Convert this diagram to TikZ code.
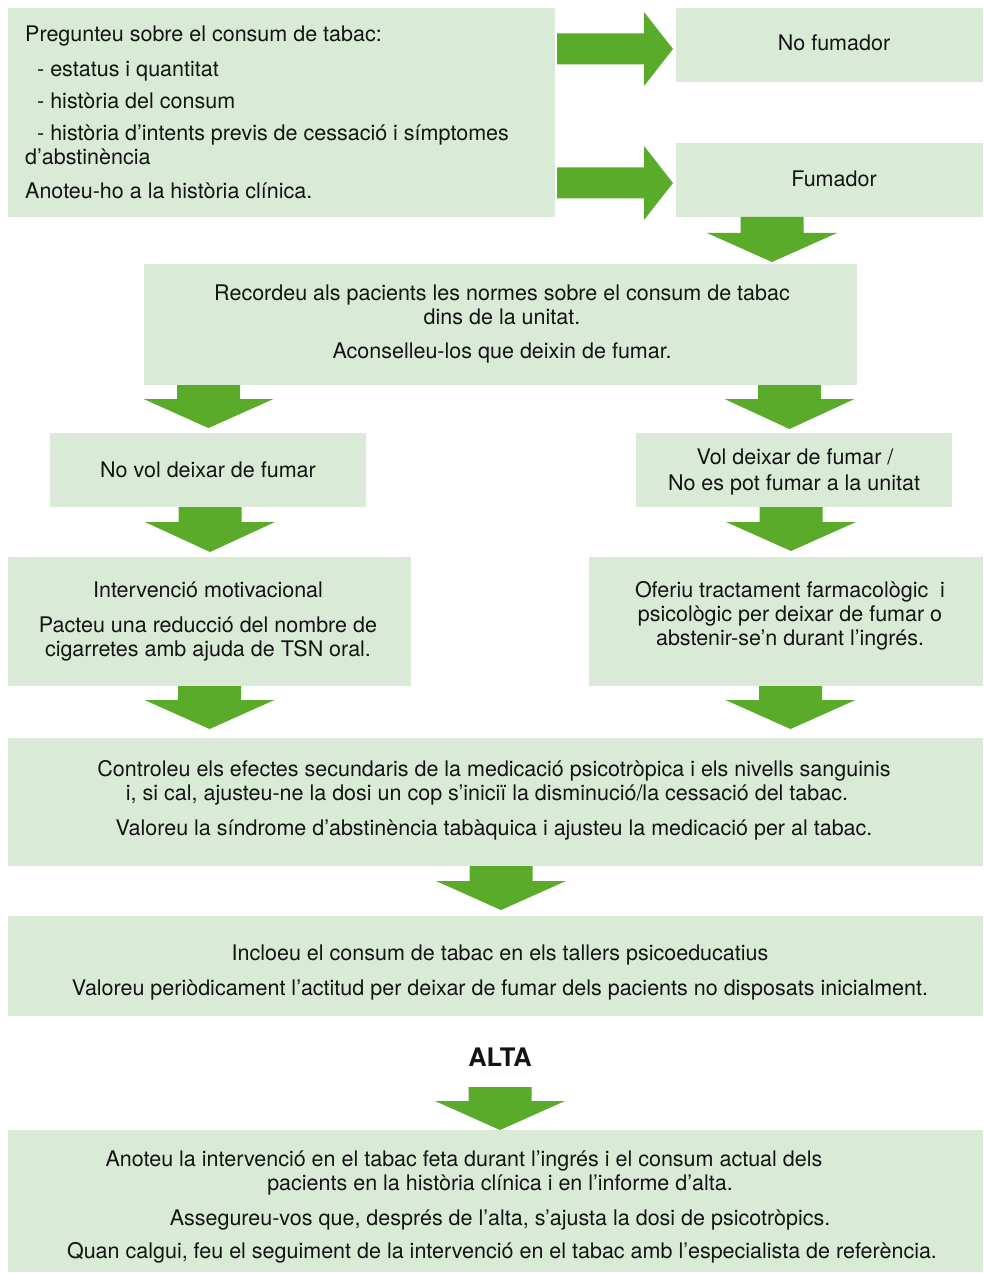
\documentclass[tikz,border=0pt]{standalone}
\usepackage{fontspec}
\setmainfont{TeX Gyre Heros}
\definecolor{boxgreen}{RGB}{217,234,215}
\definecolor{arrowgreen}{RGB}{90,171,42}
\definecolor{txt}{RGB}{20,20,20}
\newcommand\dnarrow[4]{\fill[arrowgreen] (#1-31.5,#2) -- (#1+31.5,#2) -- (#1+31.5,#3) -- (#1+65,#3) -- (#1,#4) -- (#1-65,#3) -- (#1-31.5,#3) -- cycle;}
\newcommand\rtarrow[1]{\fill[arrowgreen] (557,#1-15.5) -- (644,#1-15.5) -- (644,#1-37) -- (673,#1) -- (644,#1+37) -- (644,#1+15.5) -- (557,#1+15.5) -- cycle;}
\begin{document}
\begin{tikzpicture}[x=1pt,y=-1pt,
  box/.style={fill=boxgreen,draw=none,inner sep=0pt,anchor=north west},
  tl/.style={anchor=base,inner sep=0pt,text=txt,font=\fontsize{21.5}{24}\selectfont},
  tw/.style={anchor=base west,inner sep=0pt,text=txt,font=\fontsize{21.5}{24}\selectfont}]
\useasboundingbox (0,0) rectangle (983,1273);
% boxes
\node[box,minimum width=547pt,minimum height=209pt] (b1) at (8,8) {};
\node[box,minimum width=307pt,minimum height=74pt] (nf) at (676,8) {};
\node[box,minimum width=307pt,minimum height=74pt] (fu) at (676,143) {};
\node[box,minimum width=713pt,minimum height=121pt] (rec) at (144,264) {};
\node[box,minimum width=316pt,minimum height=74pt] (nv) at (50,433) {};
\node[box,minimum width=316pt,minimum height=74pt] (vd) at (636,433) {};
\node[box,minimum width=403pt,minimum height=129pt] (im) at (8,557) {};
\node[box,minimum width=394pt,minimum height=129pt] (of) at (589,557) {};
\node[box,minimum width=975pt,minimum height=128pt] (co) at (8,738) {};
\node[box,minimum width=975pt,minimum height=100pt] (in) at (8,916) {};
\node[box,minimum width=975pt,minimum height=142pt] (an) at (8,1130) {};
% arrows
\rtarrow{49}
\rtarrow{183}
\dnarrow{772}{217}{233}{262}
\dnarrow{208.5}{385}{399}{428}
\dnarrow{789.5}{385}{399}{429}
\dnarrow{210}{507}{522}{552}
\dnarrow{791}{507}{522}{551}
\dnarrow{209.5}{686}{700}{729}
\dnarrow{790.5}{686}{700}{729}
\dnarrow{501}{866}{881}{910}
\dnarrow{500}{1087}{1101}{1130}
% texts box 1
\node[tw] (t1) at (25,42) {Pregunteu sobre el consum de tabac:};
\node[tw] (t2) at (25,77) {\ \ - estatus i quantitat};
\node[tw] (t3) at (25,109) {\ \ - història del consum};
\node[tw] (t4) at (25,141) {\ \ - història d’intents previs de cessació i símptomes};
\node[tw] (t5) at (25,165) {d’abstinència};
\node[tw] (t6) at (25,199) {Anoteu-ho a la història clínica.};
\node[tl] (tnf) at (834,51) {No fumador};
\node[tl] (tfu) at (834,187) {Fumador};
\node[tl] (r1) at (502,300) {Recordeu als pacients les normes sobre el consum de tabac};
\node[tl] (r2) at (502,324) {dins de la unitat.};
\node[tl] (r3) at (502,358) {Aconselleu-los que deixin de fumar.};
\node[tl] (tnv) at (208,477) {No vol deixar de fumar};
\node[tl] (v1) at (795,464) {Vol deixar de fumar /};
\node[tl] (v2) at (794,490) {No es pot fumar a la unitat};
\node[tl] (i1) at (208,597) {Intervenció motivacional};
\node[tl] (i2) at (208,632) {Pacteu una reducció del nombre de};
\node[tl] (i3) at (208,656) {cigarretes amb ajuda de TSN oral.};
\node[tl] (o1) at (790,597) {Oferiu tractament farmacològic\ \ i};
\node[tl] (o2) at (790,621) {psicològic per deixar de fumar o};
\node[tl] (o3) at (790,645) {abstenir-se’n durant l’ingrés.};
\node[tl] (c1) at (494,776) {Controleu els efectes secundaris de la medicació psicotròpica i els nivells sanguinis};
\node[tl] (c2) at (487,800) {i, si cal, ajusteu-ne la dosi un cop s’iniciï la disminució/la cessació del tabac.};
\node[tl] (c3) at (494,835) {Valoreu la síndrome d’abstinència tabàquica i ajusteu la medicació per al tabac.};
\node[tl] (n1) at (500,960) {Incloeu el consum de tabac en els tallers psicoeducatius};
\node[tl] (n2) at (500,995) {Valoreu periòdicament l’actitud per deixar de fumar dels pacients no disposats inicialment.};
\node[anchor=base,inner sep=0pt,text=txt,font=\fontsize{25.5}{28}\selectfont\bfseries] (alta) at (500,1066) {ALTA};
\node[tl] (a1) at (464,1166) {Anoteu la intervenció en el tabac feta durant l’ingrés i el consum actual dels};
\node[tl] (a2) at (500,1190) {pacients en la història clínica i en l’informe d’alta.};
\node[tl] (a3) at (500,1225) {Assegureu-vos que, després de l’alta, s’ajusta la dosi de psicotròpics.};
\node[tl] (a4) at (502,1258) {Quan calgui, feu el seguiment de la intervenció en el tabac amb l’especialista de referència.};
\end{tikzpicture}
\end{document}
